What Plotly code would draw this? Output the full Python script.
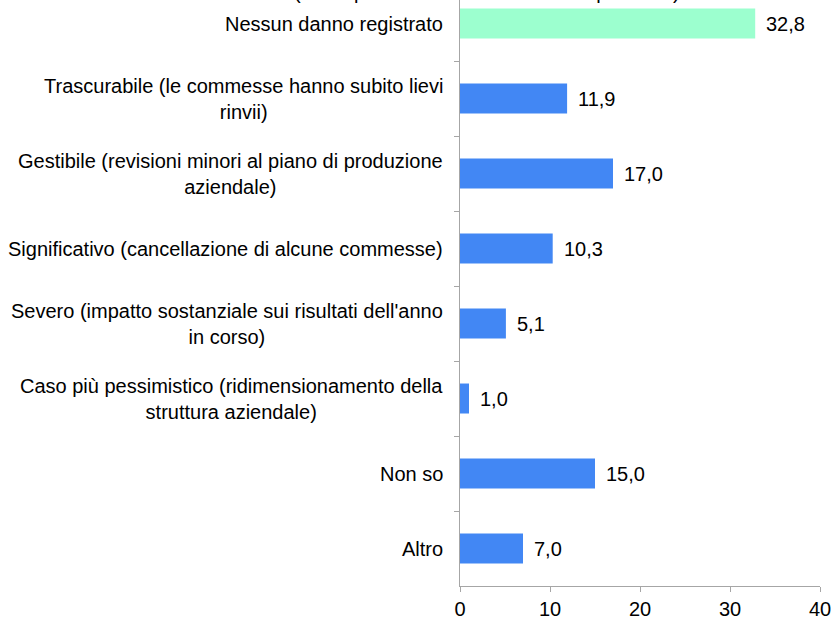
import plotly.graph_objects as go

categories = [
    "Nessun danno registrato",
    "Trascurabile (le commesse hanno subito lievi<br>rinvii)",
    "Gestibile (revisioni minori al piano di produzione<br>aziendale)",
    "Significativo (cancellazione di alcune commesse)",
    "Severo (impatto sostanziale sui risultati dell'anno<br>in corso)",
    "Caso più pessimistico (ridimensionamento della<br>struttura aziendale)",
    "Non so",
    "Altro",
]
values = [32.8, 11.9, 17.0, 10.3, 5.1, 1.0, 15.0, 7.0]
colors = ["#9cffcf"] + ["#4287f4"] * 7
subtitle = "(valori percentuali sul totale dei rispondenti)"

FONT = "Liberation Sans, Arial, sans-serif"
AXIS_GREY = "#a6a6a6"
SIZE = 20

fig = go.Figure()
fig.add_trace(
    go.Bar(
        x=values,
        y=categories,
        orientation="h",
        marker=dict(color=colors, line=dict(width=0)),
        width=0.4,
        hoverinfo="skip",
    )
)

# category labels, centred lines like the original
for cat in categories:
    fig.add_annotation(
        x=0, y=cat, xref="x", yref="y",
        text=cat, showarrow=False,
        xanchor="right", align="center", xshift=-15,
        font=dict(family=FONT, size=SIZE, color="#000000"),
    )

# value labels
for cat, v in zip(categories, values):
    fig.add_annotation(
        x=v, y=cat, xref="x", yref="y",
        text=f"{v:.1f}".replace(".", ","), showarrow=False,
        xanchor="left", xshift=9,
        font=dict(family=FONT, size=SIZE, color="#000000"),
    )

# title line, mostly cut off at the top of the picture
fig.add_annotation(
    x=0.075, y=1, xref="paper", yref="paper",
    text=subtitle, showarrow=False,
    xanchor="center", yanchor="bottom", yshift=-5,
    font=dict(family=FONT, size=SIZE, color="#000000"),
)

fig.update_layout(
    width=834,
    height=620,
    margin=dict(l=460, r=14, t=0, b=32),
    paper_bgcolor="white",
    plot_bgcolor="white",
    showlegend=False,
    separators=",.",
    font=dict(family=FONT, size=SIZE, color="#000000"),
    xaxis=dict(
        range=[0, 40],
        tickvals=[0, 10, 20, 30, 40],
        showgrid=False,
        zeroline=False,
        showline=True,
        linecolor=AXIS_GREY,
        linewidth=1,
        ticks="outside",
        ticklen=5,
        tickcolor=AXIS_GREY,
        tickfont=dict(family=FONT, size=SIZE, color="#000000"),
    ),
    yaxis=dict(
        type="category",
        categoryorder="array",
        categoryarray=categories,
        range=[7.5, -0.314],
        showticklabels=False,
        showgrid=False,
        zeroline=False,
        showline=True,
        linecolor=AXIS_GREY,
        linewidth=1,
        ticks="outside",
        tickson="boundaries",
        ticklen=5,
        tickcolor=AXIS_GREY,
    ),
)

fig.write_html(
    "out.html",
    config={"displayModeBar": False},
    post_script="document.body.style.margin = '0';",
)
